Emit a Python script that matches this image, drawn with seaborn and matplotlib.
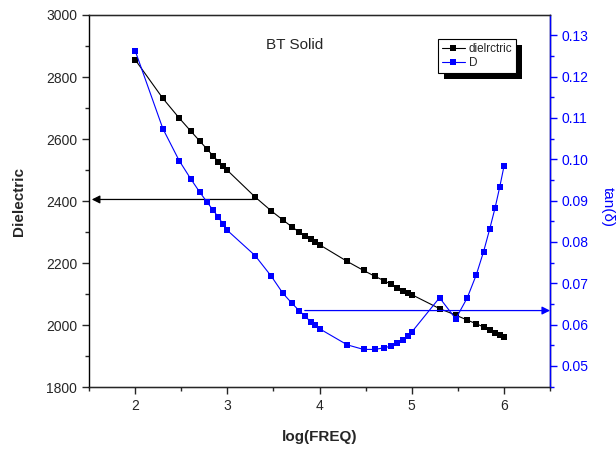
import numpy as np
import pandas as pd
import matplotlib
matplotlib.use("Agg")
import matplotlib.pyplot as plt
from matplotlib.ticker import MultipleLocator
from matplotlib.lines import Line2D
from matplotlib.patches import Rectangle
import seaborn as sns

# log(FREQ) points: 1..10 per decade
log_freq = [2.0, 2.301, 2.477, 2.602, 2.699, 2.778, 2.845, 2.903, 2.954,
            3.0, 3.301, 3.477, 3.602, 3.699, 3.778, 3.845, 3.903, 3.954,
            4.0, 4.301, 4.477, 4.602, 4.699, 4.778, 4.845, 4.903, 4.954,
            5.0, 5.301, 5.477, 5.602, 5.699, 5.778, 5.845, 5.903, 5.954, 6.0]
dielectric = [2856, 2731, 2668, 2626, 2594, 2568, 2546, 2527, 2512,
              2499, 2413, 2368, 2339, 2317, 2300, 2288, 2276, 2267,
              2259, 2205, 2176, 2157, 2143, 2131, 2120, 2111, 2104,
              2098, 2053, 2032, 2016, 2004, 1994, 1984, 1975, 1968, 1962]
tan_d = [0.1263, 0.1074, 0.0997, 0.0953, 0.0921, 0.0897, 0.0877, 0.0860, 0.0843,
         0.0828, 0.0767, 0.0717, 0.0676, 0.0652, 0.0634, 0.0620, 0.0607, 0.0599,
         0.0590, 0.0551, 0.0540, 0.0540, 0.0544, 0.0548, 0.0555, 0.0563, 0.0572,
         0.0582, 0.0665, 0.0614, 0.0665, 0.0720, 0.0776, 0.0831, 0.0882, 0.0933, 0.0983]

df = pd.DataFrame({"logf": log_freq, "diel": dielectric, "tand": tan_d})

sns.set_style("ticks")
plt.rcParams["font.family"] = ["Liberation Sans", "DejaVu Sans"]

fig, ax = plt.subplots(figsize=(6.16, 4.49), dpi=100)
fig.subplots_adjust(left=0.1445, right=0.893, top=0.9666, bottom=0.138)
ax2 = ax.twinx()

sns.lineplot(data=df, x="logf", y="diel", ax=ax, color="black", marker="s",
             markersize=4.5, markeredgewidth=0, linewidth=0.8, legend=False)
sns.lineplot(data=df, x="logf", y="tand", ax=ax2, color="blue", marker="s",
             markersize=4.5, markeredgewidth=0, linewidth=0.8, legend=False)

ax.set_xlim(1.5, 6.5)
ax.set_ylim(1800, 3000)
ax2.set_ylim(0.0449, 0.1349)

ax.xaxis.set_major_locator(MultipleLocator(1))
ax.xaxis.set_minor_locator(MultipleLocator(0.5))
ax.yaxis.set_major_locator(MultipleLocator(200))
ax.yaxis.set_minor_locator(MultipleLocator(100))
ax2.yaxis.set_major_locator(MultipleLocator(0.01))
ax2.yaxis.set_minor_locator(MultipleLocator(0.005))
ax2.yaxis.set_major_formatter(matplotlib.ticker.FormatStrFormatter("%.2f"))

ax.tick_params(axis="both", which="major", direction="out", length=5, width=1, labelsize=10)
ax.tick_params(axis="both", which="minor", direction="out", length=3, width=1)
ax.tick_params(top=False, right=False, which="both")
ax2.tick_params(axis="y", which="major", direction="out", length=5, width=1,
                colors="blue", labelsize=10)
ax2.tick_params(axis="y", which="minor", direction="out", length=3, width=1, colors="blue")

for sp in ax.spines.values():
    sp.set_color("black")
    sp.set_linewidth(1)
ax2.spines["right"].set_color("blue")
ax2.spines["right"].set_linewidth(1)
ax2.spines["left"].set_visible(False)

ax.set_xlabel("log(FREQ)", fontsize=11, fontweight="bold", labelpad=12.5)
ax.set_ylabel("Dielectric", fontsize=11, fontweight="bold", labelpad=14.5)
ax2.set_ylabel("tan(δ)", fontsize=11, color="blue", rotation=270)
ax2.yaxis.label.set_verticalalignment("center")
ax2.yaxis.label.set_horizontalalignment("center")
ax2.yaxis.set_label_coords(1.126, 0.484)

ax.text(0.447, 0.92, "BT Solid", transform=ax.transAxes, ha="center", va="center", fontsize=11)

# arrows indicating which axis each curve belongs to
ax.annotate("", xy=(1.53, 2405), xytext=(3.3, 2405),
            arrowprops=dict(arrowstyle="-|>", color="black", lw=0.9,
                            shrinkA=0, shrinkB=0, mutation_scale=12))
ax2.annotate("", xy=(6.5, 0.0634), xytext=(3.84, 0.0634),
             arrowprops=dict(arrowstyle="-|>", color="blue", lw=0.9,
                             shrinkA=0, shrinkB=0, mutation_scale=12),
             annotation_clip=False)

handles = [Line2D([], [], color="black", marker="s", markersize=4, markeredgewidth=0, lw=0.8),
           Line2D([], [], color="blue", marker="s", markersize=4, markeredgewidth=0, lw=0.8)]
leg = ax2.legend(handles, ["dielrctric", "D"], loc="upper left",
                 bbox_to_anchor=(0.757, 0.935), fontsize=8.5, frameon=True,
                 fancybox=False, handlelength=2.0, handletextpad=0.3, borderpad=0.3,
                 labelspacing=0.2, borderaxespad=0, numpoints=1)
leg.get_frame().set_edgecolor("black")
leg.get_frame().set_linewidth(0.8)
leg.get_frame().set_alpha(1)

# solid black drop shadow like the original
fig.canvas.draw()
bb = leg.get_window_extent().transformed(fig.transFigure.inverted())
shadow = Rectangle((bb.x0 + 6 / 616, bb.y0 - 6 / 449), bb.width, bb.height,
                   transform=fig.transFigure, facecolor="black", edgecolor="none",
                   zorder=4)
ax2.add_artist(shadow)
leg.set_zorder(6)

fig.savefig("out.png", dpi=100)
